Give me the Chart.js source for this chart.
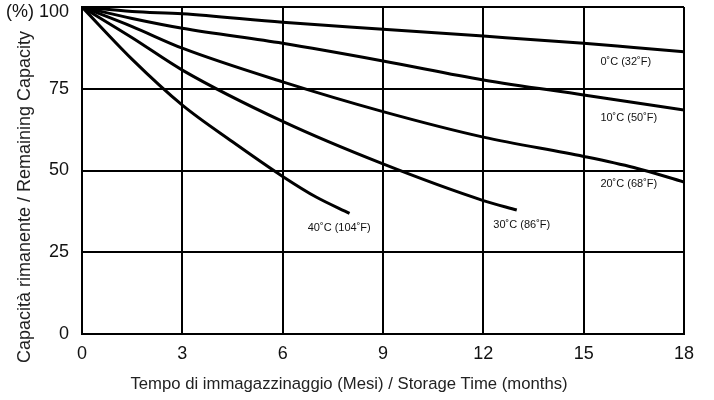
<!DOCTYPE html>
<html lang="it">
<head>
    <meta charset="UTF-8">
    <title>Capacità rimanente</title>
    <script src="https://cdn.jsdelivr.net/npm/chart.js@4.4.1/dist/chart.umd.min.js"></script>
    <style>
        body { margin: 0; background: #fff; }
        #wrap { width: 714px; height: 400px; }
    </style>
</head>
<body>
    <div id="wrap"><canvas id="capChart" width="714" height="400"></canvas></div>

    <script>
        // values (months / % remaining)
        const months = [0, 1.5, 3, 6, 9, 12, 15, 16.5, 18];
        const cap0 = [100, 98.6, 97.9, 95.3, 93.2, 91.1, 88.9, 87.6, 86.3];
        const cap10 = [100, 96.5, 93.5, 88.9, 83.5, 77.7, 73.1, 70.8, 68.5];
        const cap20 = [100, 94, 87.4, 77.1, 68, 60.2, 54.3, 50.9, 46.5];
        const months30 = [0, 1.5, 3, 6, 9, 12, 13];
        const cap30 = [100, 90.6, 80.7, 65, 52, 40.8, 37.9];
        const months40 = [0, 1.5, 3, 4.5, 6, 7, 8];
        const cap40 = [100, 84, 70, 58.8, 48.2, 41.9, 36.9];

        const seriesNames = ['0˚C (32˚F)', '10˚C (50˚F)', '20˚C (68˚F)', '30˚C (86˚F)', '40˚C (104˚F)'];
        const xTicks = [0, 3, 6, 9, 12, 15, 18];
        const yTicks = [0, 25, 50, 75, 100];

        const font = '"Liberation Sans", Arial, Helvetica, sans-serif';

        function pts(xs, ys) {
            return xs.map((x, i) => ({ x: x, y: ys[i] }));
        }

        // where the curve names sit (in data units), left aligned
        const labelAt = [
            { m: 15.5, v: 83.3 },
            { m: 15.5, v: 66.1 },
            { m: 15.5, v: 45.9 },
            { m: 12.3, v: 33.3 },
            { m: 6.75, v: 32.5 }
        ];

        const textPlugin = {
            id: 'texts',
            afterDatasetsDraw(chart) {
                const c = chart.ctx;
                const xs = chart.scales.x, ys = chart.scales.y;
                c.save();
                c.fillStyle = '#111';
                c.textBaseline = 'middle';
                c.textAlign = 'left';
                c.font = '11px ' + font;
                labelAt.forEach((p, i) => {
                    c.fillText(seriesNames[i], xs.getPixelForValue(p.m), ys.getPixelForValue(p.v));
                });

                // axis titles
                c.font = '16.7px ' + font;
                c.fillStyle = '#222';
                c.textAlign = 'center';
                c.fillText('Tempo di immagazzinaggio (Mesi) / Storage Time (months)', 349, 384);
                c.font = '18px ' + font;
                c.translate(25, 197);
                c.rotate(-Math.PI / 2);
                c.fillText('Capacità rimanente / Remaining Capacity', 0, 0);
                c.restore();
            }
        };

        const line = (data) => ({
            data: data,
            borderColor: '#000',
            borderWidth: 3,
            pointRadius: 0,
            fill: false,
            cubicInterpolationMode: 'monotone'
        });

        new Chart(document.getElementById('capChart'), {
            type: 'line',
            data: {
                datasets: [
                    line(pts(months, cap0)),
                    line(pts(months, cap10)),
                    line(pts(months, cap20)),
                    line(pts(months30, cap30)),
                    line(pts(months40, cap40))
                ]
            },
            options: {
                responsive: false,
                animation: false,
                layout: { padding: { top: 7, right: 30, left: 0, bottom: 0 } },
                plugins: {
                    legend: { display: false },
                    tooltip: { enabled: false }
                },
                scales: {
                    x: {
                        type: 'linear',
                        min: 0,
                        max: 18,
                        afterBuildTicks: s => { s.ticks = xTicks.map(v => ({ value: v })); },
                        afterFit: s => { s.height = 66; s.paddingLeft = 0; s.paddingRight = 0; },
                        grid: { color: '#000', lineWidth: 2, drawTicks: false },
                        border: { color: '#000', width: 2 },
                        ticks: { color: '#111', font: { size: 18, family: font }, padding: 9 }
                    },
                    y: {
                        min: 0,
                        max: 100,
                        afterBuildTicks: s => { s.ticks = yTicks.map(v => ({ value: v })); },
                        afterFit: s => { s.width = 82; s.paddingTop = 0; s.paddingBottom = 0; },
                        grid: { color: '#000', lineWidth: 2, drawTicks: false },
                        border: { color: '#000', width: 2 },
                        ticks: {
                            color: '#111',
                            // top label sits a little under its grid line, as in the original
                            font: c => ({
                                size: 18,
                                family: font,
                                lineHeight: (c.tick && c.tick.value === 100) ? 0.6 : 1.2
                            }),
                            padding: 13,
                            callback: v => v === 100 ? ['', '(%) 100'] : v
                        }
                    }
                }
            },
            plugins: [textPlugin]
        });
    </script>
</body>
</html>
